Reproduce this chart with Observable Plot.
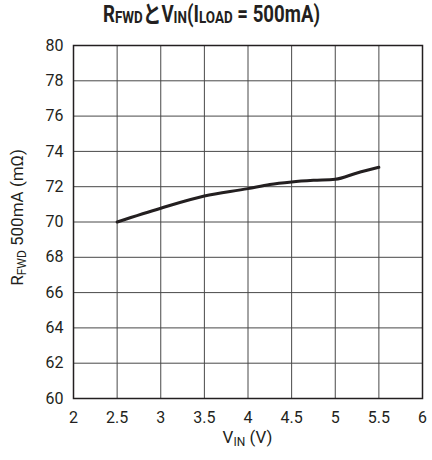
<!DOCTYPE html>
<html>
<head>
<meta charset="utf-8">
<script src="https://cdn.jsdelivr.net/npm/d3@7"></script>
<script src="https://cdn.jsdelivr.net/npm/@observablehq/plot@0.6"></script>
<style>
  body { margin: 0; background: #fff; }
  #title {
    height: 36px;
    box-sizing: border-box;
    padding: 2px 0 0 103px;
    font-family: Roboto, "Noto Sans CJK JP", sans-serif;
    font-weight: bold;
    font-size: 23px;
    line-height: 26px;
    color: #231f20;
    white-space: nowrap;
  }
  #title .txt { display: inline-block; transform-origin: 0 50%; }
  #title .sub { font-size: 0.72em; vertical-align: -0.06em; }
</style>
</head>
<body>
<div id="title"><span class="txt">R<span class="sub">FWD</span>とV<span class="sub">IN</span>(I<span class="sub">LOAD</span> = 500mA)</span></div>
<div id="chart"></div>
<script>
// Forward resistance at 500mA load versus input voltage
const vin  = [2.5, 3, 3.5, 4, 4.25, 4.5, 4.75, 5, 5.25, 5.5];
const rfwd = [70.0, 70.78, 71.47, 71.89, 72.13, 72.27, 72.36, 72.42, 72.78, 73.1];
const xTicks = [2, 2.5, 3, 3.5, 4, 4.5, 5, 5.5, 6];
const yTicks = [60, 62, 64, 66, 68, 70, 72, 74, 76, 78, 80];

const data = vin.map((v, i) => ({vin: v, r: rfwd[i]}));
const font = "Roboto, 'Noto Sans', sans-serif";
const ink = "#231f20";

const plot = Plot.plot({
  width: 432,
  height: 424,
  marginLeft: 73,
  marginRight: 10,
  marginTop: 9,
  marginBottom: 62,
  style: {fontFamily: font, fontSize: "16px", color: ink, background: "#fff"},
  x: {domain: [2, 6]},
  y: {domain: [60, 80]},
  marks: [
    Plot.gridX(xTicks, {stroke: "#484848", strokeOpacity: 1, strokeWidth: 1}),
    Plot.gridY(yTicks, {stroke: "#484848", strokeOpacity: 1, strokeWidth: 1}),
    Plot.axisX(xTicks, {tickSize: 0, tickPadding: 13, label: null, fill: ink, tickFormat: d => String(d)}),
    Plot.axisY(yTicks, {tickSize: 0, tickPadding: 10, label: null, fill: ink, tickFormat: d => String(d)}),
    Plot.line(data, {x: "vin", y: "r", curve: "monotone-x", stroke: ink, strokeWidth: 3}),
    Plot.frame({stroke: ink, strokeWidth: 1.5})
  ]
});

document.getElementById("chart").append(plot);

// Axis titles with subscripts
const sx = plot.scale("x"), sy = plot.scale("y");
const svg = d3.select(plot);
const xc = (sx.apply(2) + sx.apply(6)) / 2;
const yc = (sy.apply(60) + sy.apply(80)) / 2;

const xl = svg.append("text")
  .attr("x", xc).attr("y", 407)
  .attr("text-anchor", "middle")
  .attr("font-family", font).attr("font-size", 17).attr("fill", ink);
xl.append("tspan").text("V");
xl.append("tspan").attr("font-size", 12).attr("dy", 3).text("IN");
xl.append("tspan").attr("dy", -3).text(" (V)");

const yl = svg.append("text")
  .attr("transform", `translate(23,${yc - 4}) rotate(-90)`)
  .attr("text-anchor", "middle")
  .attr("font-family", font).attr("font-size", 17).attr("fill", ink);
yl.append("tspan").text("R");
yl.append("tspan").attr("font-size", 12).attr("dy", 3).text("FWD");
yl.append("tspan").attr("dy", -3).text(" 500mA (mΩ)");

// Condense the bold title to its set width
function fitTitle() {
  const t = document.querySelector("#title .txt");
  t.style.transform = "none";
  const w = t.getBoundingClientRect().width;
  t.style.transform = `scaleX(${217 / w})`;
}
fitTitle();
if (document.fonts) document.fonts.ready.then(fitTitle);
</script>
</body>
</html>
